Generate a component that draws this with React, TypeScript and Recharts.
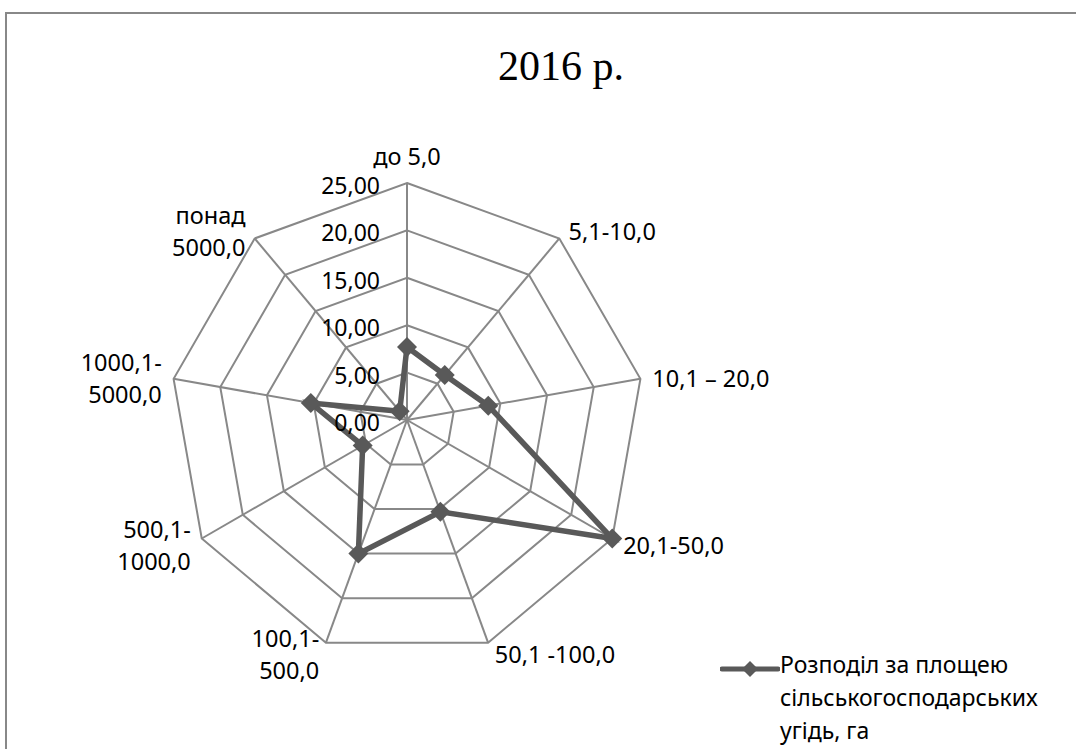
import { RadarChart, Radar, PolarGrid, PolarAngleAxis, PolarRadiusAxis, Legend } from "recharts";

const categories = [
  "до 5,0",
  "5,1-10,0",
  "10,1 – 20,0",
  "20,1-50,0",
  "50,1 -100,0",
  "100,1-\n500,0",
  "500,1-\n1000,0",
  "1000,1-\n5000,0",
  "понад\n5000,0",
];
const shares = [7.7, 6.2, 8.7, 25.0, 10.3, 15.0, 5.4, 10.3, 1.2];
const radiusTicks = [0, 5, 10, 15, 20, 25];
const seriesName = "Розподіл за площею сільськогосподарських угідь, га";
const legendLines = ["Розподіл за площею", "сільськогосподарських", "угідь, га"];

const data = categories.map((c, i) => ({ category: c, value: shares[i] }));

const CX = 407;
const CY = 420;
const R = 237;
const LABEL_FONT = "'Noto Sans', 'Open Sans', sans-serif";
const SERIES_COLOR = "#595959";
const GRID_COLOR = "#888888";

const fmt = (v: number) => v.toFixed(2).replace(".", ",");

const Diamond = ({ cx, cy, size = 10 }: { cx: number; cy: number; size?: number }) => (
  <path
    d={`M${cx},${cy - size} L${cx + size},${cy} L${cx},${cy + size} L${cx - size},${cy} Z`}
    fill={SERIES_COLOR}
  />
);

// category labels placed just outside each spoke, like Excel does it
const AngleTick = (props: any) => {
  const { payload, index } = props;
  const lines = String(payload.value).split("\n");
  const theta = (index * 2 * Math.PI) / categories.length;
  const vx = Math.sin(theta);
  const vy = -Math.cos(theta);
  const px = CX + R * vx;
  const py = CY + R * vy;
  const lh = 32;
  let anchor: "start" | "middle" | "end" = "middle";
  let x = px;
  let centerY = py + vy * 11 + 1;
  if (Math.abs(vx) < 0.1) {
    centerY = py - 27;
  } else if (vx > 0) {
    anchor = "start";
    x = px + 4 + 8 * Math.abs(vx);
  } else {
    anchor = "end";
    x = px - 4 - 8 * Math.abs(vx);
  }
  const top = centerY - ((lines.length - 1) * lh) / 2;
  return (
    <text x={x} y={top} textAnchor={anchor} fontSize={23.5} fontFamily={LABEL_FONT} fill="#000" dominantBaseline="central">
      {lines.map((l, i) => (
        <tspan key={i} x={x} y={top + i * lh}>
          {l}
        </tspan>
      ))}
    </text>
  );
};

const RadiusTick = (props: any) => {
  const { x, y, payload } = props;
  return (
    <text x={x - 27} y={y + 2} textAnchor="end" dominantBaseline="central" fontSize={23} fontFamily={LABEL_FONT} fill="#000">
      {fmt(payload.value)}
    </text>
  );
};

const LegendContent = () => (
  <div style={{ display: "flex", alignItems: "flex-start", fontFamily: LABEL_FONT, fontSize: 23, color: "#000" }}>
    <svg width={60} height={30} style={{ marginTop: 6 }}>
      <line x1={2} y1={15} x2={58} y2={15} stroke={SERIES_COLOR} strokeWidth={5} strokeLinecap="round" />
      <Diamond cx={30} cy={15} size={8} />
    </svg>
    <div style={{ lineHeight: "33px" }}>
      {legendLines.map((l) => (
        <div key={l}>{l}</div>
      ))}
    </div>
  </div>
);

export default function App() {
  return (
    <div style={{ position: "absolute", left: 0, top: 0, width: 1076, height: 749, overflow: "hidden", background: "#fff" }}>
      <div
        style={{
          position: "absolute",
          left: 5,
          top: 12,
          width: 1120,
          height: 800,
          border: `2px solid ${GRID_COLOR}`,
        }}
      />
      <div
        style={{
          position: "absolute",
          left: 0,
          top: 42,
          width: 1122,
          textAlign: "center",
          fontFamily: "'Liberation Serif', 'Times New Roman', serif",
          fontSize: 42,
          color: "#000",
        }}
      >
        2016 р.
      </div>
      <div style={{ position: "absolute", left: 0, top: 0 }}>
        <RadarChart width={1076} height={749} data={data} cx={CX} cy={CY} outerRadius={R} margin={{ top: 0, right: 0, bottom: 0, left: 0 }}>
          <PolarGrid gridType="polygon" stroke={GRID_COLOR} strokeWidth={2} />
          <PolarAngleAxis dataKey="category" tick={AngleTick} tickLine={false} axisLine={false} />
          <PolarRadiusAxis
            angle={90}
            domain={[0, 25]}
            ticks={radiusTicks as any}
            tickCount={6}
            tick={RadiusTick}
            axisLine={false}
            tickLine={false}
          />
          <Radar
            name={seriesName}
            dataKey="value"
            stroke={SERIES_COLOR}
            strokeWidth={5.5}
            fill="none"
            fillOpacity={0}
            dot={(p: any) => <Diamond key={p.index} cx={p.cx} cy={p.cy} />}
            isAnimationActive={false}
          />
          <Legend content={LegendContent} wrapperStyle={{ position: "absolute", left: 720, top: 648, width: 350 }} />
        </RadarChart>
      </div>
    </div>
  );
}
